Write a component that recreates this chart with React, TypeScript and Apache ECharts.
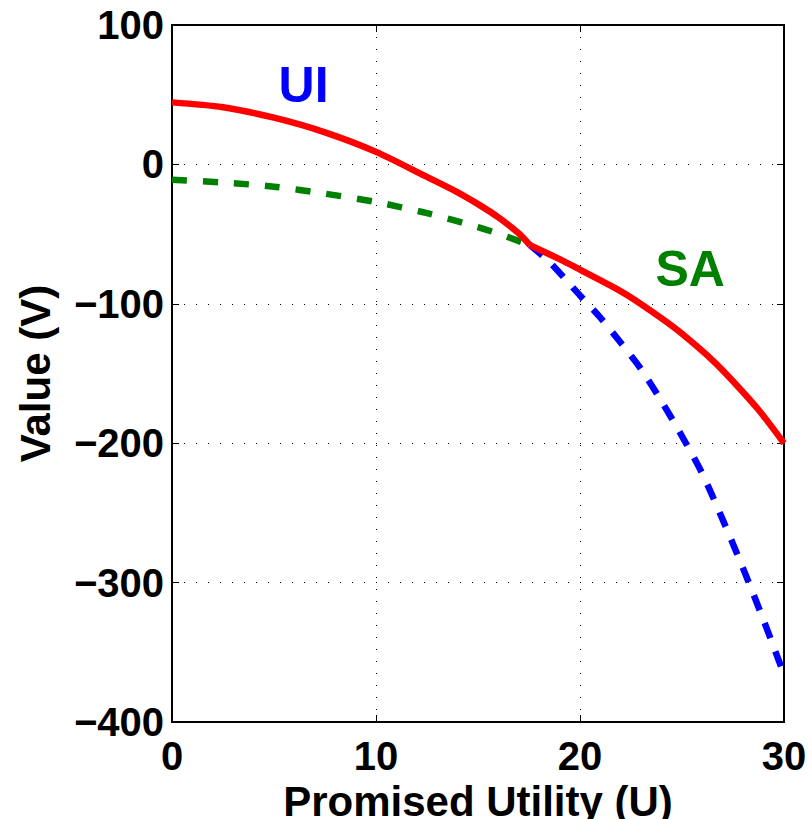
import React, { useEffect, useRef } from "react";
import * as echarts from "echarts";

// Envelope (red, solid): optimal value, before and after the switching point
const envelopeLeftU = [0, 2.5, 5, 7.5, 10, 12.5, 14, 15, 16, 17, 17.55];
const envelopeLeftV = [44.5, 41, 33.5, 23, 9, -9, -20, -28.5, -38, -49.5, -58];
const envelopeRightU = [17.55, 19, 20, 21.5, 22.5, 24, 25, 26.5, 27.5, 28.75, 30];
const envelopeRightV = [-58, -68, -75.5, -87, -95.5, -110.5, -121.5, -140.5, -155.5, -176, -200];

// SA branch (green, dashed), visible part
const saU = [0, 2.5, 5, 7.5, 10, 12.5, 15, 16.25, 17.55];
const saV = [-11, -13, -16, -21, -27, -35, -45, -51, -58];

// UI branch (blue, dashed), visible part
const uiU = [17.55, 18.5, 20, 21, 22, 23, 24, 25, 26, 27, 28, 29, 30];
const uiV = [-58, -70, -94, -110, -128, -147, -170, -195, -222, -255, -290, -327, -366];

// Curve annotations
const labels = [
  { text: "UI", u: 6.45, v: 57, color: "#0000ff" },
  { text: "SA", u: 25.4, v: -75, color: "#008000" },
];

const xTicks = { min: 0, max: 30, interval: 10 };
const yTicks = { min: -400, max: 100, interval: 100 };

const FONT = "'Liberation Sans', Arial, Helvetica, sans-serif";

const zip = (a: number[], b: number[]) => a.map((x, i) => [x, b[i]]);

export default function App() {
  const ref = useRef<HTMLDivElement>(null);
  useEffect(() => {
    if (!ref.current) return;
    const chart = echarts.init(ref.current, null, { renderer: "svg" });
    const tickLabel = {
      fontFamily: FONT,
      fontWeight: "bold" as const,
      fontSize: 40,
      color: "#000",
    };
    const axisLine = { show: true, onZero: false, lineStyle: { color: "#000", width: 2 } };
    const axisTick = { show: true, inside: true, length: 7, lineStyle: { color: "#000", width: 1 } };
    const split = { show: true, lineStyle: { color: "#000", width: 1, type: [1, 11] } };
    const redStyle = { color: "#ff0000", width: 6.5 };
    chart.setOption({
      animation: false,
      backgroundColor: "#fff",
      grid: {
        left: 172,
        right: 28,
        top: 25,
        bottom: 97,
        show: true,
        borderColor: "#000",
        borderWidth: 2,
        backgroundColor: "transparent",
        containLabel: false,
        outerBoundsMode: "none",
      },
      xAxis: [
        {
          type: "value",
          ...xTicks,
          position: "bottom",
          name: "Promised Utility (U)",
          nameLocation: "middle",
          nameGap: 50,
          nameTextStyle: { ...tickLabel, fontSize: 42 },
          axisLine,
          axisTick,
          axisLabel: { ...tickLabel, margin: 14 },
          splitLine: split,
        },
        {
          type: "value",
          ...xTicks,
          position: "top",
          axisLine,
          axisTick,
          axisLabel: { show: false },
          splitLine: { show: false },
        },
      ],
      yAxis: [
        {
          type: "value",
          ...yTicks,
          position: "left",
          name: "Value (V)",
          nameLocation: "middle",
          nameGap: 116,
          nameTextStyle: { ...tickLabel, fontSize: 42 },
          axisLine,
          axisTick,
          axisLabel: {
            ...tickLabel,
            margin: 8,
            formatter: (v: number) => String(v).replace("-", "\u2212"),
          },
          splitLine: split,
        },
        {
          type: "value",
          ...yTicks,
          position: "right",
          axisLine,
          axisTick,
          axisLabel: { show: false },
          splitLine: { show: false },
        },
      ],
      series: [
        {
          type: "line",
          name: "SA",
          data: zip(saU, saV),
          showSymbol: false,
          symbol: "none",
          smooth: 0.3,
          lineStyle: { color: "#008000", width: 6.5, type: [15, 16], cap: "butt" },
          z: 2,
        },
        {
          type: "line",
          name: "UI",
          data: zip(uiU, uiV),
          showSymbol: false,
          symbol: "none",
          smooth: 0.3,
          lineStyle: { color: "#0000ff", width: 6.5, type: [16, 14], cap: "butt" },
          z: 2,
        },
        {
          type: "line",
          name: "Envelope (UI part)",
          data: zip(envelopeLeftU, envelopeLeftV),
          showSymbol: false,
          symbol: "none",
          smooth: 0.3,
          lineStyle: redStyle,
          z: 3,
        },
        {
          type: "line",
          name: "Envelope (SA part)",
          data: zip(envelopeRightU, envelopeRightV),
          showSymbol: false,
          symbol: "none",
          smooth: 0.3,
          lineStyle: redStyle,
          z: 3,
        },
        {
          type: "scatter",
          name: "labels",
          data: labels.map((l) => ({
            value: [l.u, l.v],
            label: {
              show: true,
              position: "inside",
              formatter: l.text,
              color: l.color,
              opacity: 1,
              textBorderWidth: 0,
              fontFamily: FONT,
              fontWeight: "bold",
              fontSize: 50,
            },
          })),
          symbolSize: 0,
          itemStyle: { color: "rgba(0,0,0,0)", opacity: 1 },
          emphasis: { disabled: true },
          z: 4,
        },
      ],
    });
    return () => chart.dispose();
  }, []);
  return (
    <div
      ref={ref}
      style={{ position: "fixed", left: 0, top: 0, width: 812, height: 819, background: "#fff" }}
    />
  );
}
